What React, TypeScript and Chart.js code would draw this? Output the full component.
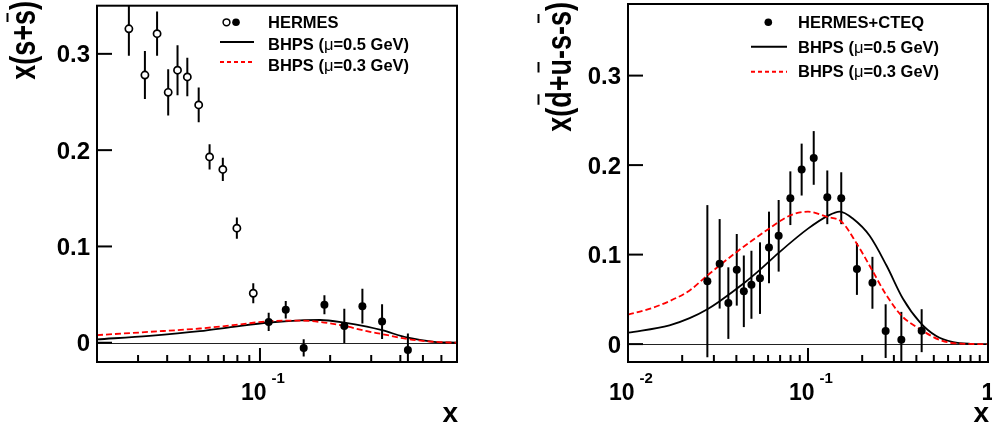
import React, { useEffect, useRef } from "react";
import { Chart, registerables } from "chart.js";

Chart.register(...registerables);

const FONT = '"Liberation Sans", Arial, Helvetica, sans-serif';

// ---------------- Left panel : x(s + s̄) ----------------
const leftOpenX = [0.0274, 0.0321, 0.0362, 0.0404, 0.0443, 0.0488, 0.0546, 0.0608, 0.0693, 0.0796, 0.0936];
const leftOpenY = [0.326, 0.278, 0.321, 0.26, 0.283, 0.276, 0.247, 0.193, 0.18, 0.119, 0.0514];
const leftOpenErr = [0.028, 0.025, 0.023, 0.024, 0.026, 0.02, 0.018, 0.013, 0.012, 0.011, 0.0105];

const leftFilledX = [0.109, 0.129, 0.154, 0.189, 0.23, 0.275, 0.334, 0.431];
const leftFilledY = [0.0216, 0.0343, -0.0054, 0.0395, 0.0175, 0.038, 0.022, -0.0075];
const leftFilledErr = [0.0095, 0.009, 0.009, 0.0098, 0.0177, 0.018, 0.018, 0.017];

const leftCurveX = [0.02, 0.0336, 0.0552, 0.0767, 0.109, 0.149, 0.181, 0.23, 0.2875, 0.334, 0.431, 0.556, 0.7];
const leftBhps05Y = [0.0035, 0.0072, 0.012, 0.0165, 0.021, 0.0233, 0.0236, 0.021, 0.0168, 0.013, 0.0052, 0.001, 0];
const leftBhps03Y = [0.0079, 0.0113, 0.0148, 0.0182, 0.0223, 0.023, 0.0216, 0.0175, 0.012, 0.009, 0.0038, 0.001, 0];

const leftYTicks = [0, 0.1, 0.2, 0.3];
const leftYTickLabels = ["0", "0.1", "0.2", "0.3"];
const leftXMajorTicks = [0.1];
const leftXMajorBase = ["10"];
const leftXMajorExp = ["-1"];
const leftXMinorTicks = [0.03, 0.04, 0.05, 0.06, 0.07, 0.08, 0.09, 0.2, 0.3, 0.4, 0.5, 0.6];
const leftLegendLabels = ["HERMES", "BHPS (μ=0.5 GeV)", "BHPS (μ=0.3 GeV)"];
const leftYTitle = "x(s+s)";
const leftYTitleBars = [4];

// ---------------- Right panel : x(d̄+ū-s-s̄) ----------------
const rightX = [0.0276, 0.0323, 0.0361, 0.0402, 0.044, 0.0485, 0.0541, 0.0607, 0.0687, 0.0798, 0.0922, 0.1076, 0.128, 0.153, 0.187, 0.228, 0.27, 0.33, 0.428];
const rightY = [0.0703, 0.0897, 0.0458, 0.083, 0.059, 0.0663, 0.0737, 0.108, 0.121, 0.163, 0.195, 0.208, 0.164, 0.163, 0.084, 0.0685, 0.0145, 0.005, 0.015];
const rightErr = [0.085, 0.05, 0.04, 0.04, 0.04, 0.038, 0.04, 0.04, 0.04, 0.03, 0.029, 0.03, 0.03, 0.029, 0.029, 0.029, 0.03, 0.031, 0.024];

const rightBhps05X = [0.01, 0.017, 0.022, 0.0276, 0.0323, 0.044, 0.054, 0.0687, 0.1, 0.128, 0.15, 0.178, 0.22, 0.273, 0.337, 0.418, 0.516, 0.64, 0.8, 1];
const rightBhps05Y = [0.0127, 0.021, 0.029, 0.039, 0.048, 0.068, 0.083, 0.102, 0.129, 0.143, 0.148, 0.14, 0.121, 0.0878, 0.0507, 0.0246, 0.009, 0.0022, 0.0003, 0];
const rightBhps03X = [0.01, 0.013, 0.017, 0.022, 0.0276, 0.04, 0.0607, 0.08, 0.1, 0.128, 0.153, 0.187, 0.228, 0.27, 0.33, 0.43, 0.55, 0.7, 1];
const rightBhps03Y = [0.033, 0.039, 0.048, 0.06, 0.0767, 0.1027, 0.129, 0.144, 0.148, 0.142, 0.137, 0.112, 0.082, 0.056, 0.032, 0.0153, 0.004, 0.0005, 0];

const rightYTicks = [0, 0.1, 0.2, 0.3];
const rightYTickLabels = ["0", "0.1", "0.2", "0.3"];
const rightXMajorTicks = [0.01, 0.1, 1];
const rightXMajorBase = ["10", "10", "1"];
const rightXMajorExp = ["-2", "-1", ""];
const rightXMinorTicks = [0.02, 0.03, 0.04, 0.05, 0.06, 0.07, 0.08, 0.09, 0.2, 0.3, 0.4, 0.5, 0.6, 0.7, 0.8, 0.9];
const rightLegendLabels = ["HERMES+CTEQ", "BHPS (μ=0.5 GeV)", "BHPS (μ=0.3 GeV)"];
const rightYTitle = "x(d+u-s-s)";
const rightYTitleBars = [2, 4, 8];

const pts = (xs: number[], ys: number[]) => xs.map((x, i) => ({ x, y: ys[i] }));

type ErrSet = { x: number[]; y: number[]; e: number[] };

type PanelCfg = {
  name: string;
  offset: number;
  padding: { left: number; right: number; top: number; bottom: number };
  xMin: number;
  xMax: number;
  yMin: number;
  yMax: number;
  errSets: ErrSet[];
  datasets: any[];
  yTicks: number[];
  yTickLabels: string[];
  xMajor: number[];
  xMajorBase: string[];
  xMajorExp: string[];
  xMinor: number[];
  yTitle: string;
  yTitleBars: number[];
  yTitleBaseX: number;
  yTitleTop: number;
  yTitleBarX: number;
  legend: {
    labels: string[];
    textX: number;
    baselines: number[];
    lineX0: number;
    lineX1: number;
    lineYs: number[];
    markers: { x: number; y: number; open: boolean }[];
  };
};

function drawMixed(ctx: CanvasRenderingContext2D, text: string, x: number, y: number, size: number) {
  const parts = text.split("μ");
  let cx = x;
  ctx.textAlign = "left";
  ctx.textBaseline = "alphabetic";
  parts.forEach((p, i) => {
    if (i > 0) {
      ctx.font = `${size}px ${FONT}`;
      ctx.fillText("μ", cx, y);
      cx += ctx.measureText("μ").width;
    }
    ctx.font = `bold ${size}px ${FONT}`;
    ctx.fillText(p, cx, y);
    cx += ctx.measureText(p).width;
  });
}

function makeDecor(cfg: PanelCfg) {
  return {
    id: "decor_" + cfg.name,
    beforeDatasetsDraw(chart: any) {
      const { ctx, chartArea: a, scales } = chart;
      const xs = scales.x;
      const ys = scales.y;
      ctx.save();
      ctx.beginPath();
      ctx.rect(a.left, a.top, a.right - a.left, a.bottom - a.top);
      ctx.clip();
      const y0 = Math.round(ys.getPixelForValue(0)) + 0.5;
      ctx.strokeStyle = "#222";
      ctx.lineWidth = 1;
      ctx.beginPath();
      ctx.moveTo(a.left, y0);
      ctx.lineTo(a.right, y0);
      ctx.stroke();
      ctx.strokeStyle = "#000";
      ctx.lineWidth = 2;
      for (const s of cfg.errSets) {
        for (let i = 0; i < s.x.length; i++) {
          const px = xs.getPixelForValue(s.x[i]);
          ctx.beginPath();
          ctx.moveTo(px, ys.getPixelForValue(s.y[i] - s.e[i]));
          ctx.lineTo(px, ys.getPixelForValue(s.y[i] + s.e[i]));
          ctx.stroke();
        }
      }
      ctx.restore();
    },
    afterDraw(chart: any) {
      const { ctx, chartArea: a, scales } = chart;
      const xs = scales.x;
      const ys = scales.y;
      ctx.save();
      ctx.fillStyle = "#000";
      ctx.strokeStyle = "#000";
      // frame
      ctx.lineWidth = 2;
      ctx.strokeRect(a.left, a.top, a.right - a.left, a.bottom - a.top);
      // y ticks + labels
      ctx.font = `bold 24px ${FONT}`;
      ctx.textAlign = "right";
      ctx.textBaseline = "alphabetic";
      cfg.yTicks.forEach((v, i) => {
        const y = ys.getPixelForValue(v);
        ctx.beginPath();
        ctx.moveTo(a.left, y);
        ctx.lineTo(a.left + 15, y);
        ctx.stroke();
        ctx.fillText(cfg.yTickLabels[i], a.left - 7, y + 8.6);
      });
      // x ticks
      cfg.xMinor.forEach((v) => {
        const x = xs.getPixelForValue(v);
        ctx.beginPath();
        ctx.moveTo(x, a.bottom);
        ctx.lineTo(x, a.bottom - 7);
        ctx.stroke();
      });
      cfg.xMajor.forEach((v, i) => {
        const x = xs.getPixelForValue(v);
        ctx.beginPath();
        ctx.moveTo(x, a.bottom);
        ctx.lineTo(x, a.bottom - 14);
        ctx.stroke();
        const base = cfg.xMajorBase[i];
        const exp = cfg.xMajorExp[i];
        ctx.textAlign = "left";
        ctx.font = `bold 23px ${FONT}`;
        const wb = ctx.measureText(base).width;
        ctx.font = `bold 15px ${FONT}`;
        const we = exp ? ctx.measureText(exp).width : 0;
        const gap = exp ? 5 : 0;
        const total = wb + gap + we;
        const x0 = x - total / 2 + (exp ? 3 : 0);
        ctx.font = `bold 23px ${FONT}`;
        ctx.fillText(base, x0, 400);
        if (exp) {
          ctx.font = `bold 15px ${FONT}`;
          ctx.fillText(exp, x0 + wb + gap, 383);
        }
      });
      // x title
      ctx.font = `bold 28px ${FONT}`;
      ctx.textAlign = "right";
      ctx.fillText("x", a.right + 1, 422);
      // y title (rotated, stretched perpendicular)
      const tSize = 27;
      ctx.font = `bold ${tSize}px ${FONT}`;
      const W = ctx.measureText(cfg.yTitle).width;
      ctx.save();
      ctx.translate(cfg.yTitleBaseX, cfg.yTitleTop);
      ctx.rotate(-Math.PI / 2);
      ctx.scale(1, 1.3);
      ctx.textAlign = "right";
      ctx.fillText(cfg.yTitle, 0, 0);
      ctx.restore();
      ctx.font = `bold ${tSize}px ${FONT}`;
      for (const idx of cfg.yTitleBars) {
        const p0 = ctx.measureText(cfg.yTitle.slice(0, idx)).width;
        const p1 = ctx.measureText(cfg.yTitle.slice(0, idx + 1)).width;
        const yTop = cfg.yTitleTop + W - p1;
        const yBot = cfg.yTitleTop + W - p0;
        ctx.fillRect(cfg.yTitleBarX - 1, yTop + 3, 2, yBot - yTop - 6);
      }
      // legend
      const L = cfg.legend;
      L.labels.forEach((t, i) => drawMixed(ctx, t, L.textX, L.baselines[i], 16.5));
      L.markers.forEach((m) => {
        ctx.beginPath();
        ctx.arc(m.x, m.y, m.open ? 3.4 : 3.8, 0, Math.PI * 2);
        if (m.open) {
          ctx.fillStyle = "#fff";
          ctx.fill();
          ctx.lineWidth = 1.5;
          ctx.strokeStyle = "#000";
          ctx.stroke();
          ctx.fillStyle = "#000";
        } else {
          ctx.fillStyle = "#000";
          ctx.fill();
        }
      });
      ctx.lineWidth = 2;
      ctx.strokeStyle = "#000";
      ctx.beginPath();
      ctx.moveTo(L.lineX0, L.lineYs[0]);
      ctx.lineTo(L.lineX1, L.lineYs[0]);
      ctx.stroke();
      ctx.strokeStyle = "#ff0000";
      ctx.setLineDash([4, 3]);
      ctx.beginPath();
      ctx.moveTo(L.lineX0, L.lineYs[1]);
      ctx.lineTo(L.lineX1, L.lineYs[1]);
      ctx.stroke();
      ctx.setLineDash([]);
      ctx.restore();
    },
  };
}

const curveDs = (xs: number[], ys: number[], color: string, dash: number[], order: number) => ({
  data: pts(xs, ys),
  borderColor: color,
  borderWidth: 1.8,
  borderDash: dash,
  pointRadius: 0,
  fill: false,
  cubicInterpolationMode: "monotone",
  order,
  clip: 0,
});

const pointDs = (xs: number[], ys: number[], open: boolean) => ({
  data: pts(xs, ys),
  showLine: false,
  pointRadius: open ? 3.6 : 4,
  pointBackgroundColor: open ? "#ffffff" : "#000000",
  pointBorderColor: "#000000",
  pointBorderWidth: open ? 1.7 : 0,
  order: 0,
  clip: 0,
});

const leftPanel: PanelCfg = {
  name: "left",
  offset: 0,
  padding: { left: 97, right: 39, top: 2, bottom: 67 },
  xMin: 0.02,
  xMax: 0.7,
  yMin: -0.02,
  yMax: 0.35,
  errSets: [
    { x: leftOpenX, y: leftOpenY, e: leftOpenErr },
    { x: leftFilledX, y: leftFilledY, e: leftFilledErr },
  ],
  datasets: [
    pointDs(leftOpenX, leftOpenY, true),
    pointDs(leftFilledX, leftFilledY, false),
    curveDs(leftCurveX, leftBhps05Y, "#000000", [], 2),
    curveDs(leftCurveX, leftBhps03Y, "#ff0000", [6, 3], 1),
  ],
  yTicks: leftYTicks,
  yTickLabels: leftYTickLabels,
  xMajor: leftXMajorTicks,
  xMajorBase: leftXMajorBase,
  xMajorExp: leftXMajorExp,
  xMinor: leftXMinorTicks,
  yTitle: leftYTitle,
  yTitleBars: leftYTitleBars,
  yTitleBaseX: 35,
  yTitleTop: 1,
  yTitleBarX: 7.5,
  legend: {
    labels: leftLegendLabels,
    textX: 268,
    baselines: [27.5, 49.5, 71],
    lineX0: 220,
    lineX1: 254,
    lineYs: [42, 62],
    markers: [
      { x: 226.5, y: 22.3, open: true },
      { x: 236, y: 22.3, open: false },
    ],
  },
};

const rightPanel: PanelCfg = {
  name: "right",
  offset: 496,
  padding: { left: 132, right: 4, top: 3, bottom: 67 },
  xMin: 0.01,
  xMax: 1,
  yMin: -0.02,
  yMax: 0.38,
  errSets: [{ x: rightX, y: rightY, e: rightErr }],
  datasets: [
    pointDs(rightX, rightY, false),
    curveDs(rightBhps05X, rightBhps05Y, "#000000", [], 2),
    curveDs(rightBhps03X, rightBhps03Y, "#ff0000", [6, 3], 1),
  ],
  yTicks: rightYTicks,
  yTickLabels: rightYTickLabels,
  xMajor: rightXMajorTicks,
  xMajorBase: rightXMajorBase,
  xMajorExp: rightXMajorExp,
  xMinor: rightXMinorTicks,
  yTitle: rightYTitle,
  yTitleBars: rightYTitleBars,
  yTitleBaseX: 75,
  yTitleTop: 2,
  yTitleBarX: 42.5,
  legend: {
    labels: rightLegendLabels,
    textX: 302,
    baselines: [27.5, 52.8, 77.3],
    lineX0: 255,
    lineX1: 291,
    lineYs: [46.7, 71.7],
    markers: [{ x: 272.3, y: 22.3, open: false }],
  },
};

function PanelChart({ panel }: { panel: PanelCfg }) {
  const ref = useRef<HTMLCanvasElement>(null);
  useEffect(() => {
    if (!ref.current) return;
    const chart = new Chart(ref.current, {
      type: "line",
      data: { datasets: panel.datasets },
      options: {
        animation: false,
        responsive: false,
        maintainAspectRatio: false,
        events: [],
        layout: { padding: panel.padding },
        plugins: { legend: { display: false }, tooltip: { enabled: false } },
        scales: {
          x: { type: "logarithmic", min: panel.xMin, max: panel.xMax, display: false },
          y: { type: "linear", min: panel.yMin, max: panel.yMax, display: false },
        },
      } as any,
      plugins: [makeDecor(panel) as any],
    });
    return () => chart.destroy();
  }, [panel]);
  return (
    <canvas
      ref={ref}
      width={496}
      height={429}
      style={{ position: "absolute", left: panel.offset, top: 0, width: 496, height: 429, display: "block" }}
    />
  );
}

export default function App() {
  return (
    <div style={{ position: "fixed", left: 0, top: 0, width: 992, height: 429, background: "#fff", overflow: "hidden" }}>
      <PanelChart panel={leftPanel} />
      <PanelChart panel={rightPanel} />
    </div>
  );
}
